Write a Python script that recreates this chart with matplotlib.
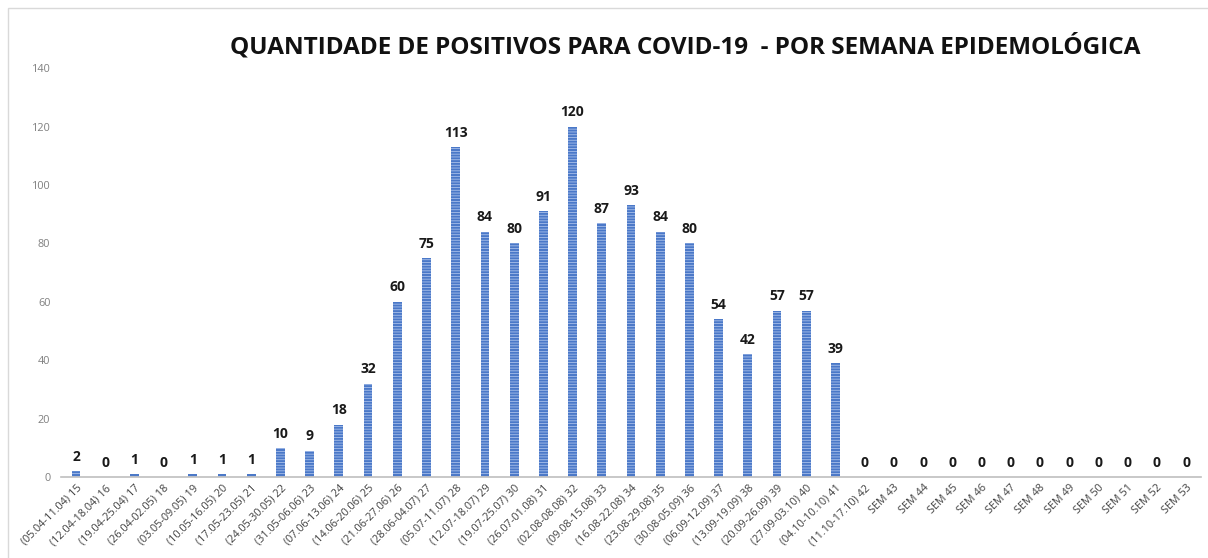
import matplotlib.pyplot as plt
from matplotlib.patches import Rectangle
import numpy as np

# weekly labels and positive counts
weeks = ["(05.04-11.04) 15", "(12.04-18.04) 16", "(19.04-25.04) 17", "(26.04-02.05) 18",
         "(03.05-09.05) 19", "(10.05-16.05) 20", "(17.05-23.05) 21", "(24.05-30.05) 22",
         "(31.05-06.06) 23", "(07.06-13.06) 24", "(14.06-20.06) 25", "(21.06-27.06) 26",
         "(28.06-04.07) 27", "(05.07-11.07) 28", "(12.07-18.07) 29", "(19.07-25.07) 30",
         "(26.07-01.08) 31", "(02.08-08.08) 32", "(09.08-15.08) 33", "(16.08-22.08) 34",
         "(23.08-29.08) 35", "(30.08-05.09) 36", "(06.09-12.09) 37", "(13.09-19.09) 38",
         "(20.09-26.09) 39", "(27.09-03.10) 40", "(04.10-10.10) 41", "(11.10-17.10) 42",
         "SEM 43", "SEM 44", "SEM 45", "SEM 46", "SEM 47", "SEM 48", "SEM 49",
         "SEM 50", "SEM 51", "SEM 52", "SEM 53"]
positives = [2, 0, 1, 0, 1, 1, 1, 10, 9, 18, 32, 60, 75, 113, 84, 80, 91, 120, 87, 93,
             84, 80, 54, 42, 57, 57, 39, 0, 0, 0, 0, 0, 0, 0, 0, 0, 0, 0, 0]
yticks = [0, 20, 40, 60, 80, 100, 120, 140]

plt.rcParams['font.family'] = ['Open Sans', 'DejaVu Sans']
plt.rcParams['hatch.linewidth'] = 0.6

fig = plt.figure(figsize=(12.08, 5.58), dpi=100)
ax = fig.add_axes([0.0508, 0.145, 0.9431, 0.733])

x = np.arange(len(weeks))
bars = ax.bar(x, positives, width=0.3, color='#4a78c8', edgecolor='#a9c0ea',
              hatch='------', linewidth=0)

for xi, v in zip(x, positives):
    ax.text(xi, v + 2.5, str(v), ha='center', va='bottom', fontsize=10,
            fontweight='bold', color='#1a1a1a')

ax.set_xlim(-0.5, len(weeks) - 0.5)
ax.set_ylim(0, 140)
ax.set_yticks(yticks)
ax.set_xticks(x)
ax.set_xticklabels(weeks, rotation=45, ha='right', rotation_mode='anchor',
                   fontsize=7.8, color='#404040')
ax.tick_params(axis='y', length=0, labelsize=7.8, labelcolor='#7f7f7f', pad=8)
ax.tick_params(axis='x', length=0, pad=4)
for s in ['top', 'right', 'left']:
    ax.spines[s].set_visible(False)
ax.spines['bottom'].set_color('#bfbfbf')
ax.spines['bottom'].set_linewidth(1.2)

fig.text(0.567, 0.916, "QUANTIDADE DE POSITIVOS PARA COVID-19  - POR SEMANA EPIDEMOLÓGICA",
         ha='center', va='center', fontsize=17.5, fontweight='bold', color='#111111')

# light frame around the chart area
fig.patches.append(Rectangle((0.007, -0.01), 1.0, 0.995, transform=fig.transFigure,
                             fill=False, edgecolor='#d9d9d9', linewidth=1))

fig.savefig("out.png", dpi=100)
